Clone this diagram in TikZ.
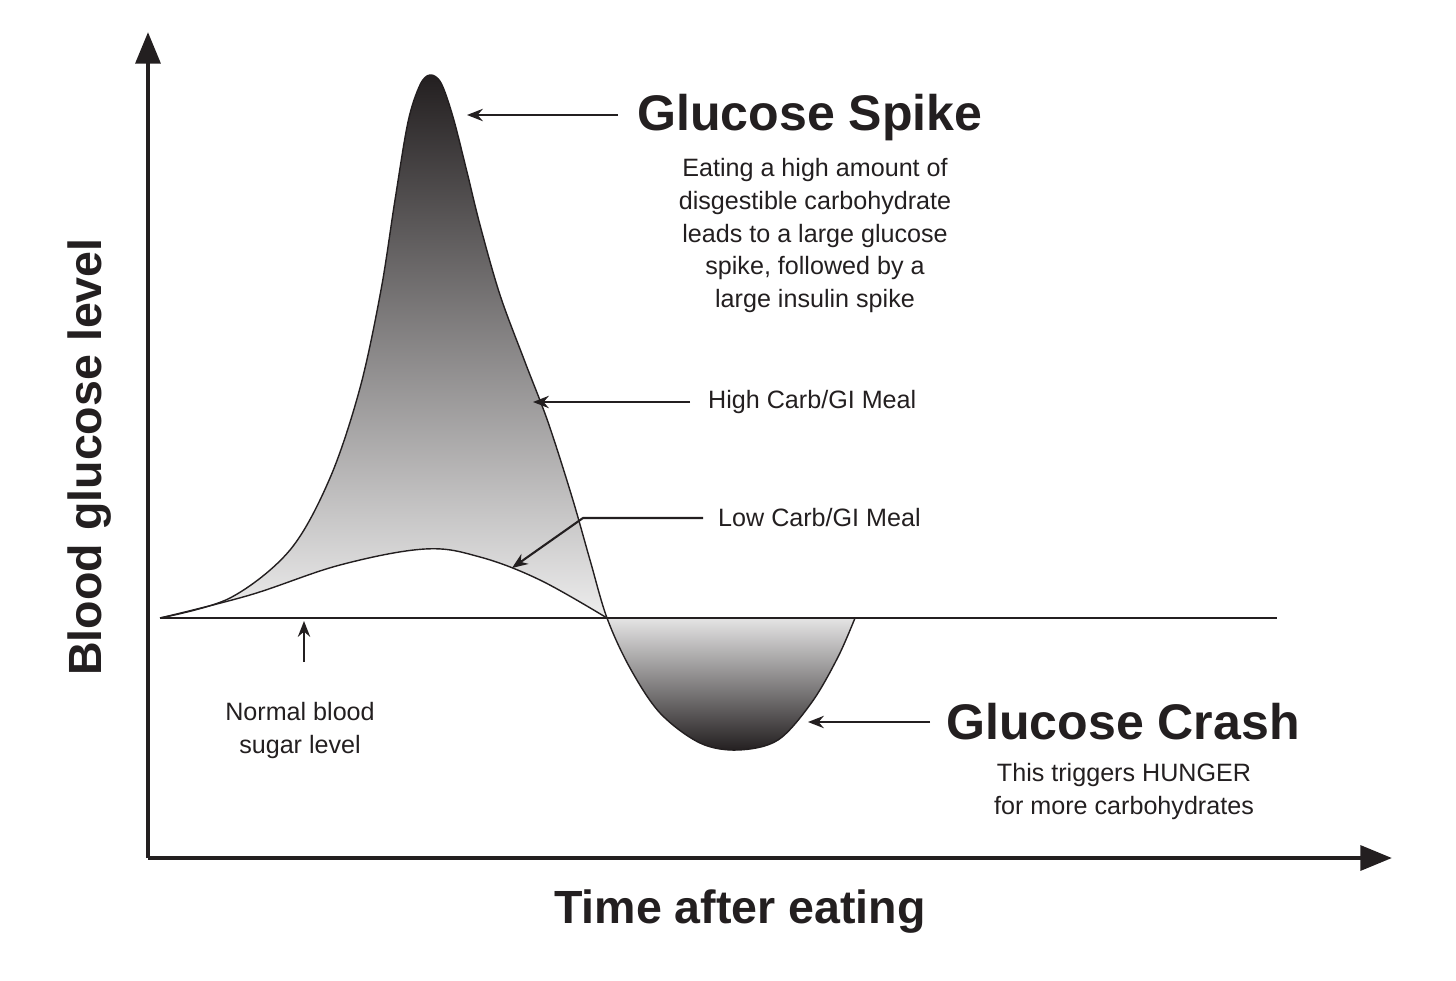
\documentclass[tikz,border=0pt]{standalone}
\usepackage{fontspec}
\setmainfont{Liberation Sans}
\usetikzlibrary{arrows.meta}
\definecolor{ink}{HTML}{231F20}
\begin{document}
\begin{tikzpicture}[x=0.02cm,y=-0.02cm,
  curve/.style={draw=ink,line width=0.8pt},
  ptr/.style={draw=ink,line width=1.2pt,-{Stealth[length=9pt,width=7pt]}},
  axis/.style={draw=ink,line width=2.6pt,-{Triangle[length=18pt,width=14pt]}},
  body/.style={font=\fontsize{14.3}{18.7}\selectfont,text=ink,align=center},
  big/.style={font=\fontsize{28.5}{30}\selectfont\bfseries,text=ink},
  axl/.style={font=\fontsize{26.5}{28}\selectfont\bfseries,text=ink},
  lab/.style={font=\fontsize{14.3}{16}\selectfont,text=ink}]
\useasboundingbox (0,0) rectangle (1456,980);
% shaded regions
\shade[top color=ink,bottom color=ink!8]
  plot[smooth,tension=0.55] coordinates {(160,618)(230,598)(290,550)(330,478)(360,388)(381,290)(395,200)(408,122)(420,85)(430,75)(441,83)(453,117)(467,172)(480,225)(500,295)(525,362)(548,422)(572,497)(590,560)(607,618)}
  -- plot[smooth,tension=0.6] coordinates {(607,618)(540,580)(480,557)(425,549)(340,565)(250,595)(160,618)} -- cycle;
\shade[top color=ink!12,bottom color=ink]
  plot[smooth,tension=0.6] coordinates {(607,618)(630,668)(660,713)(700,743)(738,750)(778,740)(812,702)(838,657)(855,618)} -- cycle;
% baseline
\draw[ink,line width=1pt] (160,618) -- (1277,618);
% curves
\draw[curve] plot[smooth,tension=0.55] coordinates {(160,618)(230,598)(290,550)(330,478)(360,388)(381,290)(395,200)(408,122)(420,85)(430,75)(441,83)(453,117)(467,172)(480,225)(500,295)(525,362)(548,422)(572,497)(590,560)(607,618)(630,668)(660,713)(700,743)(738,750)(778,740)(812,702)(838,657)(855,618)};
\draw[curve] plot[smooth,tension=0.6] coordinates {(160,618)(250,595)(340,565)(425,549)(480,557)(540,580)(607,618)};
% axes
\coordinate (o) at (148,858);
\coordinate (ytip) at (148,32);
\coordinate (xtip) at (1392,858);
\draw[axis] (o) -- (ytip);
\draw[axis] (o) -- (xtip);
% labels
\node[big] (spike) at (810,118) {Glucose Spike};
\node[body,anchor=north] (spiketxt) at (815,152) {Eating a high amount of\\disgestible carbohydrate\\leads to a large glucose\\spike, followed by a\\large insulin spike};
\coordinate (spikeend) at (467,115);
\draw[ptr] (618,115) -- (spikeend);
\node[lab,anchor=west] (high) at (702,402) {High Carb/GI Meal};
\coordinate (highend) at (533,402);
\draw[ptr] (high.west) ++(-12,0) coordinate (hs) (hs) -- (highend);
\node[lab,anchor=west] (low) at (712,518) {Low Carb/GI Meal};
\coordinate (lowbend) at (583,518);
\coordinate (lowend) at (512,568);
\draw[ptr] (703,518) -- (lowbend) -- (lowend);
\node[big] (crash) at (1123,722) {Glucose Crash};
\node[body,anchor=north] (crashtxt) at (1124,757) {This triggers HUNGER\\for more carbohydrates};
\coordinate (crashend) at (808,722);
\draw[ptr] (930,722) -- (crashend);
\node[body,anchor=north] (normal) at (300,696) {Normal blood\\sugar level};
\coordinate (normend) at (304,621);
\draw[ptr] (304,662) -- (normend);
\node[axl,rotate=90] (ylab) at (90,457) {Blood glucose level};
\node[axl] (xlab) at (740,912) {Time after eating};
\end{tikzpicture}
\end{document}
